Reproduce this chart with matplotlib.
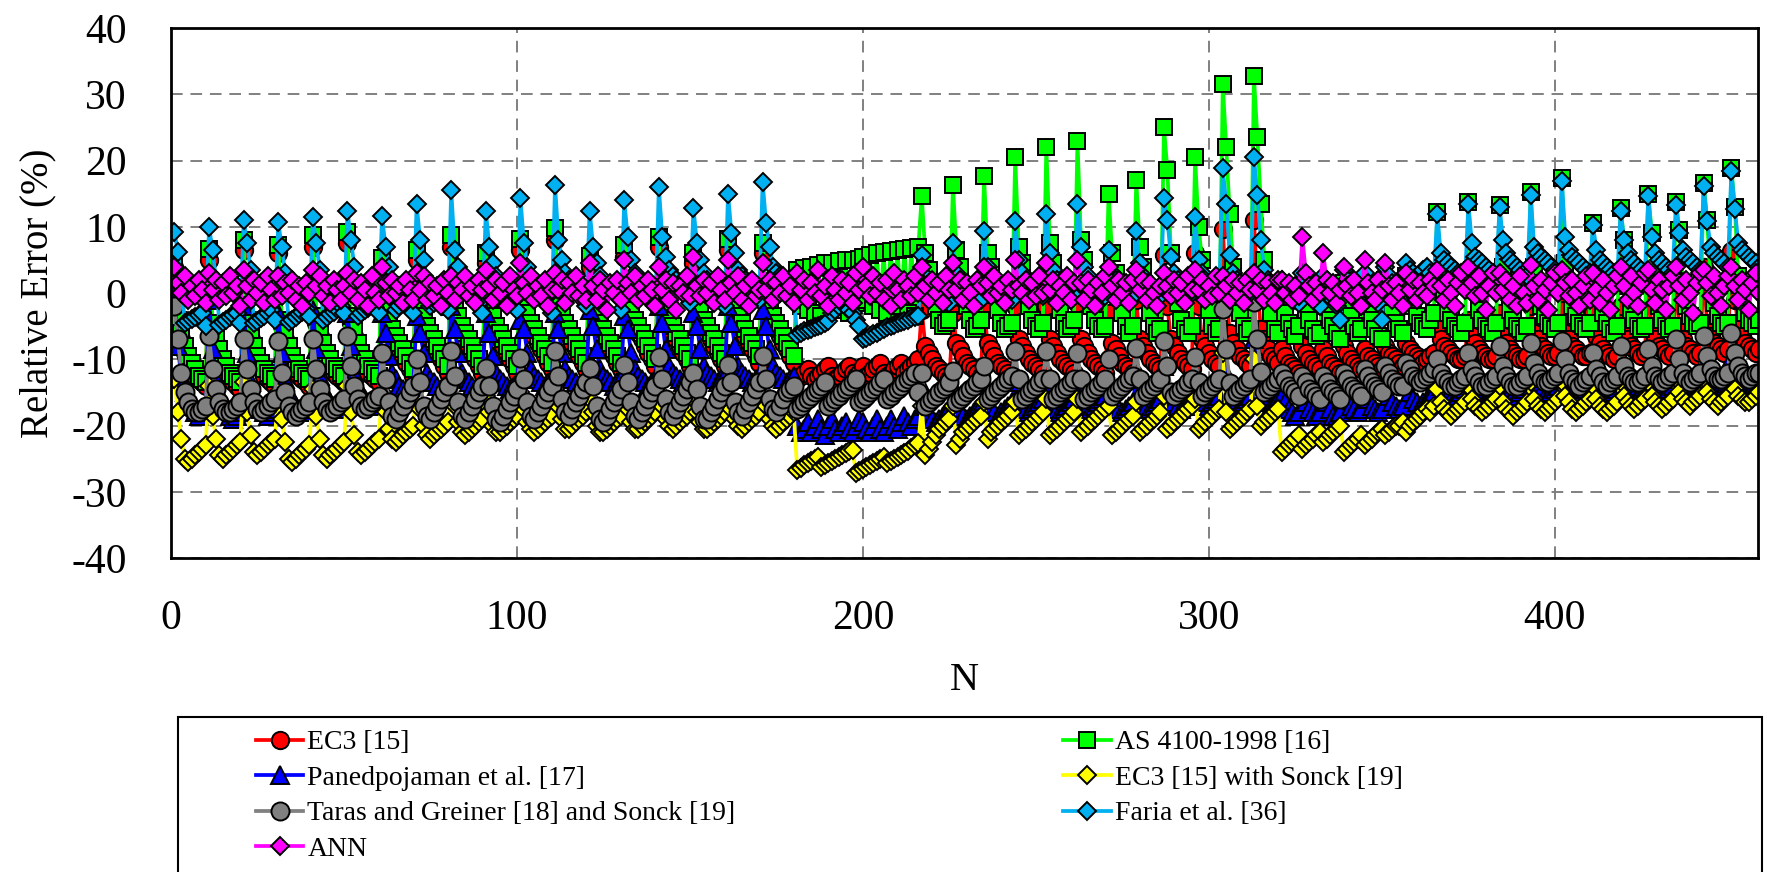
import matplotlib
matplotlib.use("Agg")
import matplotlib.pyplot as plt
import numpy as np
from matplotlib.patches import Rectangle

plt.rcParams["font.family"] = ["Liberation Serif", "DejaVu Serif"]
plt.rcParams["axes.unicode_minus"] = False

# relative error (%) per specimen, N = 1, 2, 3, ...  (block by block)
ec3 = [
    4, -5, -7, -9, -10.5, -11.5, -12.5, -13, -13.5, -14,
    5, -5.5, -7.5, -9.5, -11, -12, -13, -13.5, -14, -14.5,
    6.5, -5, -7, -9, -10.5, -11.5, -12.5, -13, -13.5, -14,
    6, -5, -7, -9, -10.5, -11.5, -12.5, -13, -13.5, -14,
    7, -4.5, -6.5, -8.5, -10, -11, -12, -12.5, -13, -13.5,
    7.5, -4.5, -6.5, -8.5, -10, -11, -12, -12.5, -13, -13.5,
    4, -3.5, -5, -6.5, -7.5, -8.5, -9.5, -10.5, -11.5, -12.5,
    5, -3, -4.5, -6, -7, -8, -9, -10, -11, -12,
    7, -3, -4.5, -6, -7, -8, -9, -10, -11, -12,
    4.5, -3, -4.5, -6, -7, -8, -9, -10, -11, -12,
    6.5, -2.5, -4, -5.5, -6.5, -7.5, -8.5, -9.5, -10.5, -11.5,
    8, -2.5, -4, -5.5, -6.5, -7.5, -8.5, -9.5, -10.5, -11.5,
    4, -2.5, -4, -5.5, -6.5, -7.5, -8.5, -9.5, -10.5, -11.5,
    5.5, -2, -3.5, -5, -6, -7, -8, -9, -10, -11,
    7, -2, -3.5, -5, -6, -7, -8, -9, -10, -11,
    4.5, -2, -3.5, -5, -6, -7, -8, -9, -10, -11,
    6.5, -1.5, -3, -4.5, -5.5, -6.5, -7.5, -8.5, -9.5, -10.5,
    6, -1.5, -3, -4.5, -5.5, -6.5, -7.5, -8.5, -9.5, -10.5,
    -13, -12.5, -12, -11.5, -12.5, -13, -12.5, -12, -11.5, -11, -12.5, -13, -12.5, -12, -11.5, -11, -12, -12.5, -12,
    -11, -12.5, -12, -11.5, -11, -10.5, -12, -12.5, -12, -11.5, -11, -10.5, -12, -11.5, -11, -10.5, -10,
    -2.5, -8, -9, -10, -11, -11.5, -12, -12.5, -13,
    -3, -7.5, -8.5, -9.5, -10.5, -11, -11.5, -12, -12.5,
    -2.5, -7.5, -8.5, -9.5, -10.5, -11, -11.5, -12, -12.5,
    -2, -7, -8, -9, -10, -10.5, -11, -11.5, -12,
    -2, -7, -8, -9, -10, -10.5, -11, -11.5, -12,
    -1.5, -7, -8, -9, -10, -10.5, -11, -11.5, -12,
    -3, -7.5, -8.5, -9.5, -10.5, -11, -11.5, -12,
    -1, -7, -8, -9, -10, -10.5, -11, -11.5,
    5.8, -2, -7, -8, -9, -10, -10.5, -11, -11.5,
    6, -2, -7, -8, -9, -10, -10.5, -11,
    9.6, 0, -6, -7.5, -8.5, -9.5, -10, -10.5, -11,
    11, 1, -5.5, -7, -8.5, -9.5, -10, -10.5,
    -8.5, -9.5, -10.5, -11, -11.5, -12,
    -8, -9, -10, -10.5, -11, -11.5,
    -8.5, -9.5, -10.5, -11, -11.5, -12,
    -8, -9, -10, -10.5, -11, -11.5,
    -8.5, -9.5, -10, -10.5, -11, -11.5,
    -8, -9, -9.5, -10, -10.5, -11,
    -7.5, -8.5, -9, -9.5, -10, -10.5, -10, -9.5, -9,
    -5, -7, -8, -8.5, -9, -9.5, -10, -10, -9.5,
    -4, -6.5, -7.5, -8.5, -9, -9.5, -10, -10, -9.5,
    -3, -6.5, -7.5, -8.5, -9, -9.5, -10, -10, -9.5,
    -2, -6, -7, -8, -8.5, -9, -9.5, -9.5, -9,
    0, -6, -7, -8, -8.5, -9, -9.5, -9.5, -9,
    -3, -6.5, -7.5, -8.5, -9, -9.5, -10, -9.5,
    -2, -6, -7, -8, -8.5, -9, -9.5, -9,
    1, -5.5, -7, -8, -8.5, -9, -9.5, -9,
    2, -5.5, -7, -8, -8.5, -9, -9.5, -9,
    4, -5, -6.5, -7.5, -8, -8.5, -9, -8.5,
    6.3, -1, -5, -6.5, -7.5, -8, -8.5, -9, -8.5,
]

as4100 = [
    5.6, -4, -6, -8, -9.5, -10.5, -11.5, -12.5, -13, -13.5,
    6.6, -4.5, -6.5, -8.5, -10, -11, -12, -12.5, -13, -13.5,
    8, -4, -6, -8, -9.5, -10.5, -11.5, -12, -12.5, -13,
    7.3, -4, -6, -8, -9.5, -10.5, -11.5, -12, -12.5, -13,
    8.7, -3.5, -5.5, -7.5, -9, -10, -11, -11.5, -12, -12.5,
    9.2, -3.5, -5.5, -7.5, -9, -10, -11, -11.5, -12, -12.5,
    5.3, -2.5, -4, -5.5, -6.5, -7.5, -8.5, -9.5, -10.5, -11.5,
    6.5, -2, -3.5, -5, -6, -7, -8, -9, -10, -11,
    8.7, -2, -3.5, -5, -6, -7, -8, -9, -10, -11,
    6.1, -2, -3.5, -5, -6, -7, -8, -9, -10, -11,
    8.2, -1.5, -3, -4.5, -5.5, -6.5, -7.5, -8.5, -9.5, -10.5,
    9.8, -1.5, -3, -4.5, -5.5, -6.5, -7.5, -8.5, -9.5, -10.5,
    5.6, -1.5, -3, -4.5, -5.5, -6.5, -7.5, -8.5, -9.5, -10.5,
    7.2, -1, -2.5, -4, -5, -6, -7, -8, -9, -10,
    8.4, -1, -2.5, -4, -5, -6, -7, -8, -9, -10,
    6.1, -1, -2.5, -4, -5, -6, -7, -8, -9, -10,
    8.2, -0.5, -2, -3.5, -4.5, -5.5, -6.5, -7.5, -8.5, -9.5,
    7.5, -0.5, -2, -3.5, -4.5, -5.5, -6.5, -7.5, -8.5, -9.5,
    3.5, -2, 3.8, -2.5, 4, -3, 4.2, -3.5, 4.5, -1, 4.6, -2, 4.8, -2.5, 5, -3, 5, -1.5, 5.2,
    5.5, -1, 5.8, -2, 6, -2.5, 6.2, -3, 6.4, -1, 6.5, -2, 6.6, -3, 6.8, -3.5, 7,
    14.6, 6, 3.5, 0.5, -2, -4, -5, -4.5, -4,
    16.3, 6.5, 4, 1, -2, -4, -5.5, -5, -4,
    17.6, 6, 4, 1, -2.5, -4.5, -5.5, -5, -4.5,
    20.5, 7, 4.5, 1.5, -2, -4, -5, -5.5, -4.5,
    22, 7.5, 4.5, 1, -2.5, -4.5, -5.5, -5, -4,
    23, 8, 5, 1.5, -2, -4, -5, -5.5, -5,
    15, 6, 3, 0, -3, -5, -6, -5,
    17, 7, 4, 0.5, -3, -5, -6, -5.5,
    25, 18.5, 6, 2, -1.5, -4, -5.5, -6, -5,
    20.5, 10, 5, 1, -2.5, -5, -6, -5.5,
    31.5, 22, 12, 4, 0, -3, -5, -6, -5.5,
    32.7, 23.5, 13.5, 5, 0, -3, -5.5, -6,
    -1, -3, -4.5, -5.5, -6.5, -5,
    1, -2.5, -4, -5.5, -6.5, -6,
    0.5, -2, -4, -5, -6, -7,
    1.5, -1.5, -3.5, -5, -6, -5.5,
    1, -2, -4, -5.5, -6.5, -7,
    2, -1, -3, -4.5, -5.5, -6,
    2.5, 0, -2, -3.5, -4.5, -5, -5.5, -4, -3,
    12.2, 3, 0, -3, -4, -5, -5.5, -6, -4.5,
    13.7, 3.5, 0.5, -2.5, -4, -5, -5.5, -6, -4.5,
    13.3, 4, 0.5, -2.5, -4, -5, -5.5, -6, -5,
    15.2, 4, 1, -2, -3.5, -4.5, -5, -5.5, -4.5,
    17.3, 4.5, 1, -2, -3.5, -4.5, -5, -5.5, -4.5,
    10.6, 3, 0, -3, -4.5, -5.5, -6, -5,
    12.8, 8, 1, -2.5, -4, -5, -5.5, -5,
    15, 9, 1.5, -2, -4, -5, -5.5, -5,
    13.8, 9.5, 1.5, -2, -3.5, -4.5, -5, -4.5,
    16.6, 11, 2, -1.5, -3.5, -4.5, -5, -4.5,
    18.8, 13, 2.5, -1, -3, -4, -4.5, -5, -4,
]

panedpojaman = [
    0.5, -8, -13, -15, -16, -17, -18, -18.5, -18, -17.5,
    -1, -8.5, -13, -15, -16.5, -17.5, -18.5, -19, -18.5, -18,
    -2, -9, -13.5, -15.5, -16.5, -17.5, -18, -18.5, -18, -17.5,
    -3, -9, -13, -15, -16, -17, -17.5, -18, -17.5, -17,
    -2.5, -8.5, -12.5, -14.5, -15.5, -16.5, -17, -17.5, -17, -16.5,
    -3, -8, -12, -14, -15, -16, -16.5, -17, -16.5, -16,
    -3, -6, -9.5, -12, -13, -14, -14.5, -15, -14.5, -14,
    -3.5, -6, -9, -12, -13, -13.5, -14, -14.5, -14, -13.5,
    -2, -5.5, -9, -12, -13, -13.5, -14, -14.5, -14, -13.5,
    -3, -6, -9.5, -12, -13, -13.5, -14, -14.5, -14, -13.5,
    -4, -5.5, -9, -11.5, -12.5, -13, -13.5, -14, -13.5, -13,
    -3, -5.5, -9, -11.5, -12.5, -13, -13.5, -14, -13.5, -13,
    -2.5, -5, -8.5, -11.5, -12.5, -13, -13.5, -14, -13.5, -13,
    -3.5, -5.5, -9, -11.5, -12.5, -13, -13.5, -14, -13.5, -13,
    -2, -4.5, -8.5, -11, -12, -12.5, -13, -13.5, -13, -12.5,
    -3, -5, -8.5, -11, -12, -12.5, -13, -13.5, -13, -12.5,
    -2, -4.5, -8, -11, -12, -12.5, -13, -13.5, -13, -12.5,
    -2.5, -5, -8.5, -11, -12, -12.5, -13, -13.5, -13, -12.5,
    -20, -21, -20.5, -19.5, -21, -20, -19, -20.5, -21.5, -20, -19, -20.5, -21, -20, -19.5, -20.5, -21, -20, -19,
    -19.5, -20.5, -21, -20, -19, -20.5, -21, -20, -19, -20, -20.5, -19.5, -18.5, -19.5, -20, -19, -18.5,
    -14, -17, -18, -19, -19.5, -19, -18.5, -18, -17.5,
    -14, -16.5, -17.5, -18.5, -19, -18.5, -18, -17.5, -17,
    -13.5, -16.5, -17.5, -18, -18.5, -18, -17.5, -17, -16.5,
    -13.5, -16, -17, -17.5, -18, -17.5, -17, -16.5, -16,
    -13, -16, -17, -17.5, -18, -17.5, -17, -16.5, -16,
    -13, -15.5, -16.5, -17, -17.5, -17, -16.5, -16, -15.5,
    -13.5, -16, -17, -17.5, -18, -17.5, -17, -16.5,
    -13, -15.5, -16.5, -17, -17.5, -17, -16.5, -16,
    -11, -14, -15.5, -16.5, -17, -17.5, -17, -16.5, -16,
    -12, -15, -16, -16.5, -17, -16.5, -16, -15.5,
    -8, -12, -15, -16, -16.5, -17, -16.5, -16, -15.5,
    -7, -11.5, -14.5, -15.5, -16.5, -17, -16.5, -16,
    -15.5, -16.5, -17.5, -18, -18.5, -18,
    -15, -16.5, -17.5, -18, -18.5, -18,
    -15.5, -16.5, -17.5, -18.5, -18.5, -18,
    -15, -16, -17, -17.5, -18, -17.5,
    -15, -16, -17, -17.5, -18, -17.5,
    -14.5, -15.5, -16.5, -17, -17.5, -17,
    -14, -15, -16, -16.5, -17, -16.5, -16, -15.5, -15,
    -12, -14, -15, -15.5, -16, -16, -15.5, -15, -14.5,
    -12, -14, -15, -15.5, -16, -16, -15.5, -15, -14.5,
    -11.5, -13.5, -14.5, -15, -15.5, -15.5, -15, -14.5, -14,
    -11.5, -13.5, -14.5, -15, -15.5, -15.5, -15, -14.5, -14,
    -11, -13.5, -14.5, -15, -15.5, -15.5, -15, -14.5, -14,
    -12, -14, -15, -15.5, -16, -15.5, -15, -14.5,
    -11.5, -13.5, -14.5, -15, -15.5, -15.5, -15, -14.5,
    -11, -13.5, -14.5, -15, -15.5, -15, -14.5, -14,
    -11, -13, -14, -14.5, -15, -15, -14.5, -14,
    -10.5, -13, -14, -14.5, -15, -15, -14.5, -14,
    -10, -12.5, -13.5, -14.5, -15, -15, -14.5, -14, -13.5,
]

ec3_sonck = [
    -13, -18, -22, -25, -25.5, -25, -24.5, -24, -23.5, -23,
    -14, -18.5, -22, -24.5, -25, -24.5, -24, -23.5, -23, -22.5,
    -13.5, -18, -21.5, -24, -24.5, -24, -23.5, -23, -22.5, -22,
    -15, -19, -22.5, -25, -25.5, -25, -24.5, -24, -23.5, -23,
    -14.5, -18.5, -22, -24.5, -25, -24.5, -24, -23.5, -23, -22.5,
    -14, -18, -21.5, -24, -24.5, -24, -23.5, -23, -22.5, -22,
    -15, -18, -20.5, -22, -22.5, -22, -21.5, -21, -20.5, -20,
    -14.5, -17.5, -20, -21.5, -22, -21.5, -21, -20.5, -20, -19.5,
    -14, -17, -19.5, -21, -21.5, -21, -20.5, -20, -19.5, -19,
    -15.5, -18, -20, -21, -21, -20.5, -20, -19.5, -19, -18.5,
    -15, -17.5, -19.5, -20.5, -21, -20.5, -20, -19.5, -19, -18.5,
    -14.5, -17, -19, -20.5, -20.5, -20, -19.5, -19, -18.5, -18,
    -16, -18, -20, -21, -21, -20.5, -20, -19.5, -19, -18.5,
    -15.5, -17.5, -19.5, -20.5, -20.5, -20, -19.5, -19, -18.5, -18,
    -15, -17, -19, -20, -20.5, -20, -19.5, -19, -18.5, -18,
    -16, -18, -19.5, -20.5, -20.5, -20, -19.5, -19, -18.5, -18,
    -15.5, -17.5, -19, -20, -20.5, -20, -19.5, -19, -18.5, -18,
    -15, -17, -19, -20, -20.5, -20, -19.5, -19, -18.5, -18,
    -26.7, -26.4, -26, -25.7, -25.4, -25.1, -24.8,
    -26.3, -26, -25.6, -25.3, -25, -24.7, -24.4, -24.1, -23.9, -23.7,
    -27.2, -26.9,
    -26.6, -26.3, -26, -25.7, -25.4, -25.1, -24.8,
    -25.7, -25.3, -25, -24.7, -24.4, -24.1, -23.8, -23.4, -23, -22.7,
    -17, -24.5, -23.5, -22.5, -21.5, -20.5, -20, -19.5, -19,
    -17, -23, -22, -21, -20.5, -20, -19.5, -19, -18.5,
    -16.5, -22, -21, -20.5, -20, -19.5, -19, -18.5, -18,
    -16.5, -21.5, -21, -20.5, -20, -19.5, -19, -18.5, -18,
    -16, -21.5, -21, -20.5, -20, -19.5, -19, -18.5, -18,
    -16, -21, -20.5, -20, -19.5, -19, -18.5, -18, -17.5,
    -17, -21.5, -21, -20.5, -20, -19.5, -19, -18.5,
    -16.5, -21, -20.5, -20, -19.5, -19, -18.5, -18,
    -15.5, -20.5, -20, -19.5, -19, -18.5, -18, -17.5, -17,
    -16, -20.5, -20, -19.5, -19, -18.5, -18, -17.5,
    -9, -18, -20.5, -20, -19.5, -19, -18.5, -18, -17.5,
    -10, -17, -20, -19.5, -19, -18.5, -18, -17.5,
    -24, -23.5, -23, -22.5, -22, -21.5,
    -23.5, -23, -22.5, -22, -21.5, -21,
    -22.5, -22, -21.5, -21, -20.5, -20,
    -24, -23.5, -23, -22.5, -22, -21.5,
    -23, -22.5, -22, -21.5, -21, -20.5,
    -21.5, -21, -20.5, -20, -20, -19.5,
    -21, -20, -19.5, -19, -18.5, -18, -17.5, -18, -17,
    -14.5, -16.5, -17.5, -18, -18.5, -18, -17.5, -17, -16.5,
    -14, -16, -17, -17.5, -18, -17.5, -17, -16.5, -16,
    -14, -16.5, -17.5, -18, -18.5, -18, -17.5, -17, -16.5,
    -13.5, -16, -17, -17.5, -18, -17.5, -17, -16.5, -16,
    -13.5, -15.5, -16.5, -17.5, -18, -17.5, -17, -16.5, -16,
    -14, -16, -17, -17.5, -18, -17.5, -17, -16.5,
    -13.5, -15.5, -16.5, -17, -17.5, -17, -16.5, -16,
    -13.5, -15.5, -16.5, -17, -17.5, -17, -16.5, -16,
    -13, -15, -16, -16.5, -17, -16.5, -16, -15.5,
    -13, -15, -16, -16.5, -17, -16.5, -16, -15.5,
    -12.5, -14.5, -15.5, -16, -16.5, -16.5, -16, -15.5, -15,
]

taras_sonck = [
    -2, -7, -12, -15, -16.5, -17.5, -18, -18, -17.5, -17,
    -6.5, -11.5, -14.5, -16.5, -17.5, -18, -18, -17.5, -17, -16.5,
    -7, -11.5, -14.5, -16.5, -17.5, -18, -17.5, -17, -16.5, -16,
    -7.3, -12, -15, -17, -18, -18.5, -18, -17.5, -17, -16.5,
    -7, -11.5, -14.5, -16.5, -17.5, -18, -17.5, -17, -16.5, -16,
    -6.5, -11, -14, -16, -17, -17.5, -17, -16.5, -16, -15.5,
    -9, -13, -16.5, -18.5, -19, -18, -17, -16, -15, -14,
    -10, -13.5, -17, -18.5, -19, -18, -17, -16, -15, -14,
    -8.8, -12.5, -16.5, -18.5, -19, -18, -17, -16, -15, -14,
    -11.3, -14, -17, -19, -19.5, -18.5, -17.5, -16.5, -15.5, -14.5,
    -9.8, -13, -16.5, -18.5, -19, -18, -17, -16, -15, -14,
    -8.8, -12.5, -16, -18, -18.5, -17.5, -16.5, -15.5, -14.5, -13.5,
    -11.3, -14, -17, -19, -19.5, -18.5, -17.5, -16.5, -15.5, -14.5,
    -10.8, -13.5, -16.5, -18.5, -19, -18, -17, -16, -15, -14,
    -9.6, -13, -16, -18, -18.5, -17.5, -16.5, -15.5, -14.5, -13.5,
    -12, -14.5, -17, -19, -19, -18, -17, -16, -15, -14,
    -10.8, -13.5, -16.5, -18, -18.5, -17.5, -16.5, -15.5, -14.5, -13.5,
    -9.5, -13, -16, -17.5, -18, -17, -16, -15, -14.5, -14,
    -17.5, -17, -16.5, -16, -15.5, -15, -14.5, -14, -13.5, -17, -16.5, -16, -15.5, -15, -14.5, -14, -13.5, -13, -16.5,
    -16, -15.5, -15, -14.5, -14, -13.5, -13, -16, -15.5, -15, -14.5, -14, -13.5, -13, -12.5, -12, -15,
    -12, -17, -16.5, -16, -15.5, -15, -14.5, -14, -13.5,
    -11.8, -16.5, -16, -15.5, -15, -14.5, -14, -13.5, -13,
    -11, -16, -15.5, -15, -14.5, -14, -13.5, -13, -12.5,
    -8.8, -13, -16, -15.5, -15, -14.5, -14, -13.5, -13,
    -8.7, -13, -16, -15.5, -15, -14.5, -14, -13.5, -13,
    -9, -13, -16, -15.5, -15, -14.5, -14, -13.5, -13,
    -10, -15.5, -15, -14.5, -14, -13.5, -13, -12.5,
    -8.3, -13, -15.5, -15, -14.5, -14, -13.5, -13,
    -7.3, -11, -15, -15.5, -15, -14.5, -14, -13.5, -13,
    -9.6, -13.5, -15.5, -15, -14.5, -14, -13.5, -13,
    -2.4, -8.4, -13.6, -15.5, -15, -14.5, -14, -13.5, -13,
    -1.3, -6.9, -11.9, -15, -14.5, -14, -13.5, -13,
    -12, -13, -14, -14.5, -15, -15.5,
    -12.5, -13.5, -14.5, -15, -15.5, -16,
    -12.5, -13.5, -14.5, -15, -15.5, -16,
    -12, -13, -14, -14.5, -15, -15.5,
    -11.5, -12.5, -13.5, -14, -14.5, -15,
    -11, -12, -13, -13.5, -14, -14,
    -10.5, -11.5, -12.5, -13, -13.5, -13, -12.5, -12, -11.5,
    -10, -12, -13, -13.5, -14, -14, -13.5, -13, -12.5,
    -9, -11.5, -12.5, -13.5, -14, -14, -13.5, -13, -12.5,
    -8, -11, -12.5, -13.5, -14, -14, -13.5, -13, -12.5,
    -7.5, -10.5, -12, -13, -13.5, -13.5, -13, -12.5, -12,
    -7.3, -10, -12, -13, -13.5, -14, -13.5, -13, -12.5,
    -9, -11.5, -12.5, -13.5, -14, -13.5, -13, -12.5,
    -8, -11, -12.5, -13, -13.5, -13.5, -13, -12.5,
    -8.4, -11, -12.5, -13, -13.5, -13, -12.5, -12,
    -7, -10, -12, -13, -13.5, -13, -12.5, -12,
    -6.5, -9.5, -11.5, -12.5, -13, -13, -12.5, -12,
    -6.1, -9, -11, -12, -12.5, -13, -12.5, -12, -12,
]

faria = [
    9.2, 6.2, 1.5, -4.5, -4.2, -3.9, -3.6, -3.3, -3, -5,
    10, 6.5, 2, -4.8, -4.4, -4, -3.6, -3.3, -3, -4.5,
    11, 7.5, 3.5, -4.6, -4.2, -3.8, -3.4, -3, -2.6, -4,
    10.7, 7, 3, -4.4, -4, -3.6, -3.2, -2.8, -2.4, -3.5,
    11.4, 7.5, 3.5, -4, -3.6, -3.2, -2.8, -2.4, -2, -3,
    12.4, 8, 4, -3.5, -3, -2.6, -2.2, -1.8, -1.5, -3,
    11.6, 7, 4, 1, -2.5, -2, -1.5, -1, -0.5, -3,
    13.4, 8, 5, 2, -2, -1.5, -1, -0.5, 0, -2.5,
    15.5, 6.5, 4, 2, 0.5, 0, -0.5, -1, -1.5, -3,
    12.4, 7, 4.5, 2.5, 1, 0.5, 0, -0.5, -1, -2.5,
    14.3, 7.5, 4, 2, 1.5, 1, 0.5, 0, -0.5, -3,
    16.3, 8, 5, 3, 2, 1.5, 1, 0.5, 0, -2,
    12.4, 7, 4.5, 2.5, 1.5, 1, 0.5, 0, -0.5, -2.5,
    14, 8.5, 5, 3, 2, 1.5, 1, 0.5, 0, -2,
    16, 8.5, 5.5, 3.5, 2.5, 2, 1.5, 1, 0.5, -1.5,
    12.9, 7.5, 5, 3, 2, 1.5, 1, 0.5, 0, -2,
    15, 9, 6, 3.5, 2.5, 2, 1.5, 1, 0.5, -1,
    16.8, 10.5, 7, 4, 3, 2.5, 2, 1.5, 1, -0.5,
    -6.3, -6, -5.8, -5.6, -5.4, -5.2, -5, -4.8, -4.6, -4.3, -3, -2.5, -2, -1.5, -2, -2.5, -3, -4, -5,
    -7, -6.8, -6.5, -6.2, -6, -5.7, -5.4, -5.2, -5, -4.8, -4.6, -4.4, -4.2, -4, -3.8, -3.6, -3.4,
    5.7, 2.5, 1.5, 1, 0.5, 0, -0.5, -1, -1.5,
    7.6, 3, 2, 1.5, 1, 0.5, 0, -0.5, -1,
    9.4, 4, 2.5, 1.5, 1, 0.5, 0, -0.5, -1,
    10.9, 5, 3, 2, 1.5, 1, 0.5, 0, -0.5,
    12, 6, 3.5, 2, 1.5, 1, 0.5, 0, -0.5,
    13.5, 7, 4, 2.5, 1.5, 1, 0.5, 0, -0.5,
    6.5, 3, 2, 1.5, 1, 0.5, 0, -0.5,
    9.3, 4.5, 2.5, 1.5, 1, 0.5, 0, -0.5,
    14.3, 11, 5.5, 3, 2, 1.5, 1, 0.5, 0,
    11.5, 5, 3, 2, 1.5, 1, 0.5, 0,
    18.8, 13.4, 5.8, 3, 2, 1.5, 1, 0.5, 0,
    20.6, 14.8, 8, 3.4, 2, 1.5, 1, 0.5,
    2, 1, 0.5, -0.5, -1, -1.5,
    3, 1.5, 0.5, -0.5, -1.5, -2,
    2.5, 1, 0, -1, -2, -4,
    3.5, 2, 1, 0, -1, -2,
    3, 1.5, 0.5, -0.5, -1.5, -4,
    4, 2.5, 1.5, 0.5, -0.5, -1.5,
    4.5, 3.5, 3, 2.5, 2, 3.5, 4, 3, 2.5,
    11.9, 6, 5, 4.5, 4, 3.5, 3, 2.5, 2,
    13.4, 7.5, 5.5, 5, 4.5, 4, 3.5, 3, 2.5,
    13, 8, 6, 5, 4.5, 4, 3.5, 3, 2.5,
    14.8, 7, 6, 5.5, 5, 4.5, 4, 3.5, 3,
    16.9, 8.5, 6.5, 5.5, 5, 4.5, 4, 3.5, 3,
    10.3, 6.5, 5, 4.5, 4, 3.5, 3, 2.5,
    12.4, 8, 6, 5, 4.5, 4, 3.5, 3,
    14.6, 8.5, 6, 5, 4.5, 4, 3.5, 3,
    13.3, 9, 6.5, 5.5, 5, 4.5, 4, 3.5,
    16.1, 10.9, 7, 6, 5.5, 5, 4.5, 4,
    18.4, 12.7, 7.5, 6.5, 6, 5.5, 5, 4.5, 4,
]

ann = [
    4, 1.5, 0, 2.5, -1, 1, -0.5, 2, 0.5, -1.5,
    3, 0.5, 2, -1, 1.5, -0.5, 2.5, 0, 1, -2,
    3.5, 1, -1, 2, 0, 1.5, -1.5, 2.5, 0.5, -1,
    2.5, -0.5, 1.5, 0, 2, -1, 1, -2, 1.5, 0,
    3.5, 1, 2.5, -0.5, 1, -1.5, 2, 0.5, -1, 1,
    3, 0, 2, -1, 1.5, 0.5, -2, 2.5, 0, -1,
    4, 1.5, -0.5, 2, 0, 1, -1.5, 2, 0.5, -1,
    3, 0.5, 2.5, -1, 1.5, -0.5, 1, -2, 2, 0,
    2.5, -1, 1.5, 0.5, 2.5, -0.5, 1, -1.5, 2, 0.5,
    3.5, 1, -1, 2, 0, 1.5, -2, 2.5, 0.5, -0.5,
    4.5, 1.5, 0, 2.5, -1, 1, -0.5, 2, -2, 0.5,
    3, 0.5, 2, -1.5, 1.5, 0, 2.5, -0.5, 1, -1,
    4.5, 1, -1, 2, 0.5, -2.5, 1.5, 0, 2, -1,
    5, 1.5, 0, 2.5, -1, 1, -0.5, 2, 0.5, -2,
    4, 0.5, 2, -1, 1.5, -2.5, 1, 0, 2.5, -0.5,
    5.5, 1, -0.5, 2, 0, 1.5, -1.5, 2.5, 0.5, -1,
    5, 1.5, 0, 2.5, -1, 1, -2, 2, -0.5, 0.5,
    4.5, 0.5, 2, -1, 1.5, 0, 2.5, -0.5, 1, -1.5,
    3, 0.5, 2, -1, 1.5, 0, 3.5, -0.5, 1, -2, 2.5, 0.5, -1, 2, 0, 1.5, -1.5, 3, 0.5,
    4, 1, -0.5, 2.5, 0, 1.5, -1, 2, -2, 3, 0.5, -1, 2, 1, -0.5, 2.5, 0,
    4, 1, -1, 2, 0, 1.5, -1.5, 2.5, 0.5,
    4.5, 0.5, 2, -1, 1.5, 0, -2, 2, 1,
    4, 1.5, -0.5, 2.5, 0, 1, -1.5, 2, 0.5,
    5, 1, 0, 2, -1, 1.5, -0.5, 2.5, 0,
    4.5, 0.5, 2, -1.5, 1, 0, 2.5, -1, 1.5,
    5, 1.5, -1, 2, 0.5, -2, 1.5, 0, 2.5,
    4, 1, -1, 2, 0, 1.5, -1.5, 2,
    3.5, 0.5, 2, -1, 1.5, 0, -2, 1,
    3, 1, -0.5, 2, 0, 1.5, -1.5, 2.5, 0.5,
    3.5, 0.5, 2, -1, 1, -0.5, 2.5, 0,
    2.5, 1, -1, 2, 0, 1.5, -1.5, 2, 0.5,
    3, 0.5, 2, -1, 1.5, 0, -1.5, 2,
    2, 0, 1.5, -1, 1, -0.5,
    8.4, 3, 1, -1, 1.5, 0,
    6.1, 2, 0, 1.5, -1.5, 0.5,
    3.9, 1, -0.5, 2, 0, -2,
    5, 1.5, 0, -1, 2, 0.5,
    4.6, 1, -1, 1.5, 0, -2,
    3, 0.5, 2, -1, 1.5, 0, -0.5, 2, 1,
    3.5, 1, -1, 2, 0, -2, 1.5, 3, 0.5,
    4, 1.5, -0.5, 2.5, 0, -2.5, 1, 3, 0,
    3, 0.5, 2, -1, 1, -2, 2.5, 0, -1.5,
    4.2, 1, -1, 2, 0.5, -2.5, 1.5, 3, 0,
    3.5, 1.5, -0.5, 2, 0, -2, 1, 2.5, -1,
    3, 0.5, -1.5, 2, 0, -2.5, 1, 2.5,
    4, 1, -1, 2.5, 0, -2, 1.5, 3,
    3.5, 0.5, -1.5, 2, 0.5, -2.5, 1, 2.5,
    4, 1, -1, 2, 0, -3, 1.5, 3,
    3.5, 1.5, -0.5, 2.5, 0, -2, 1, 2.5,
    4, 1, -1, 2, 0.5, -2.5, 1.5, 3, 0,
]

names = ["EC3 [15]", "AS 4100-1998 [16]", "Panedpojaman et al. [17]",
         "EC3 [15] with Sonck [19]", "Taras and Greiner [18] and Sonck [19]",
         "Faria et al. [36]", "ANN"]
values = [ec3, as4100, panedpojaman, ec3_sonck, taras_sonck, faria, ann]
colors = ["#FF0000", "#00FF00", "#0000FF", "#FFFF00", "#808080", "#00B0F0", "#FF00FF"]
markers = ["o", "s", "^", "D", "o", "D", "D"]
msizes = [12.5, 12, 12.5, 9.5, 13, 9.5, 9.5]

fig = plt.figure(figsize=(17.67, 8.72), dpi=100)
ax = fig.add_axes([171 / 1767, 1 - 558 / 872, 1587 / 1767, 530 / 872])

lines = []
for name, vals, col, mk, ms in zip(names, values, colors, markers, msizes):
    x = np.arange(1, len(vals) + 1)
    ln, = ax.plot(x, vals, color=col, lw=2.7, marker=mk, ms=ms, mfc=col,
                  mec="black", mew=1.4, label=name)
    lines.append(ln)

ax.set_xlim(0, 458.7)
ax.set_ylim(-40, 40)
ax.set_xticks([0, 100, 200, 300, 400])
ax.set_yticks(np.arange(-40, 41, 10))
ax.set_axisbelow(True)
ax.grid(True, color="#808080", linestyle=(0, (6, 4)), linewidth=1.4)
for s in ax.spines.values():
    s.set_linewidth(2)
    s.set_color("black")
ax.tick_params(axis="both", length=0, labelsize=30)
ax.tick_params(axis="x", pad=30)
ax.tick_params(axis="y", pad=32)
ax.set_xlabel("N", fontsize=29)
ax.set_ylabel("Relative Error (%)", fontsize=28)
ax.xaxis.set_label_coords(0.5, -0.196)
ax.yaxis.set_label_coords(-0.072, 0.5)

# legend box (runs off the bottom of the figure, as in the original)
fig.patches.append(Rectangle((178 / 1767, -0.05), (1762 - 178) / 1767, (872 - 717) / 872 + 0.05,
                             transform=fig.transFigure, fill=False, edgecolor="black", lw=1.5))
order = [0, 2, 4, 6, 1, 3, 5]
fig.legend([lines[i] for i in order], [names[i] for i in order],
           loc="upper left", bbox_to_anchor=(256 / 1767, 1 - 730 / 872),
           ncol=2, frameon=False, fontsize=20, borderpad=0, borderaxespad=0,
           handlelength=1.7, handletextpad=0.15, labelspacing=0.36,
           columnspacing=11.8)

fig.savefig("out.png", dpi=100)
